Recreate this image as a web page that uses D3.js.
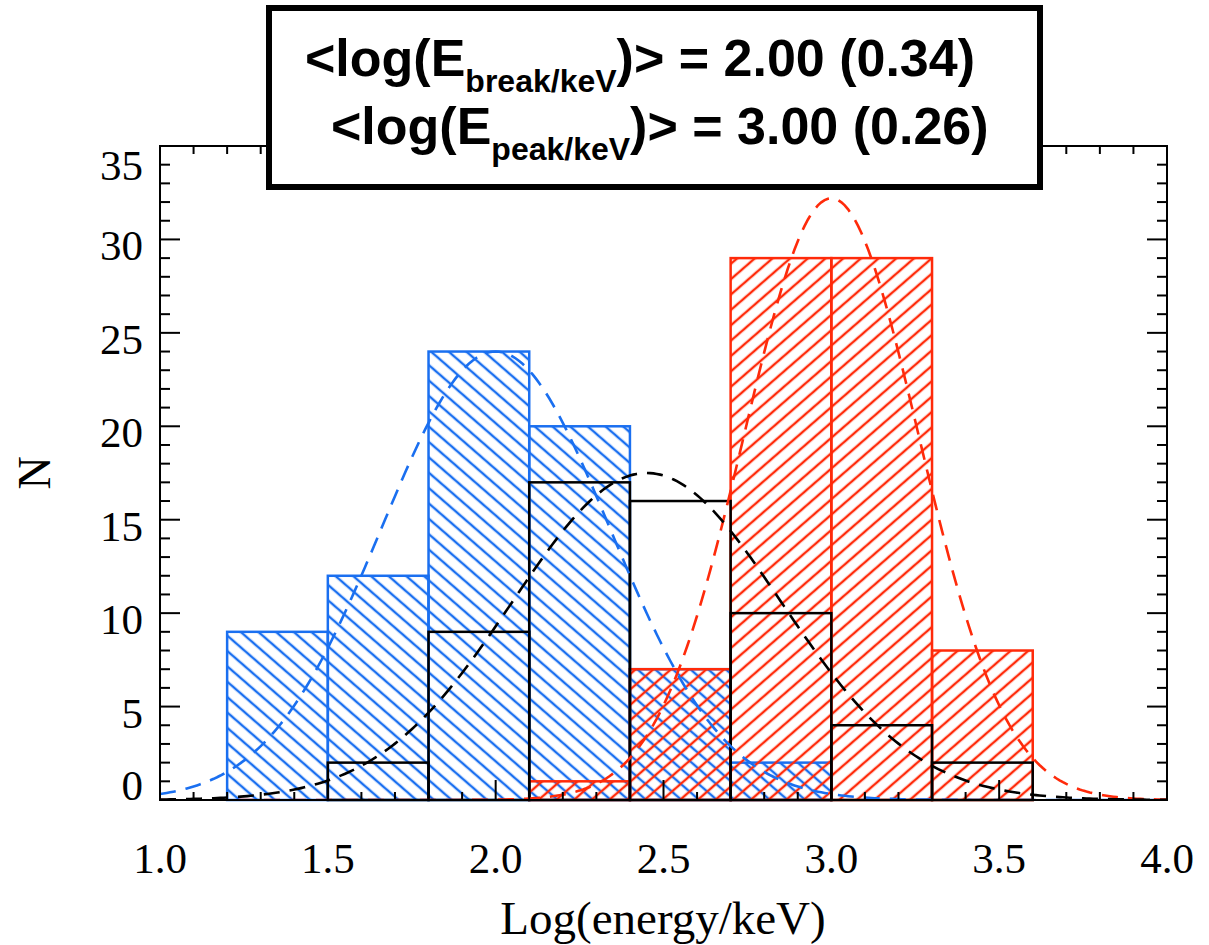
<!DOCTYPE html>
<html><head><meta charset="utf-8">
<script src="https://cdn.jsdelivr.net/npm/d3@7"></script>
<style>body{margin:0;background:#fff}</style>
</head><body><svg id="c" width="1209" height="945"></svg>
<script>
// ---- data ----
const binEdges = [1.2, 1.5, 1.8, 2.1, 2.4, 2.7, 3.0, 3.3, 3.6];
const breakCounts = [9, 12, 24, 20, 7, 2, 0, 0];   // blue
const peakCounts  = [0, 0, 0, 1, 7, 29, 29, 8];    // red
const otherCounts = [0, 2, 9, 17, 16, 10, 4, 2];   // black
// gaussian fits: [mean, sigma, amplitude]
const breakFit = [2.00, 0.34, 24.0];
const peakFit  = [3.00, 0.26, 32.2];
const otherFit = [2.45, 0.40, 17.5];
const xTicks = [1.0, 1.5, 2.0, 2.5, 3.0, 3.5, 4.0];
const xTickLabels = ["1.0", "1.5", "2.0", "2.5", "3.0", "3.5", "4.0"];
const yTicks = [0, 5, 10, 15, 20, 25, 30, 35];
const yTickLabels = ["0", "5", "10", "15", "20", "25", "30", "35"];

const BLUE = "#1a6ff0", RED = "#ff2a0a", BLACK = "#000";
const svg = d3.select("#c");
const L = 160, R = 1167, T = 146, B = 800;
const x = d3.scaleLinear().domain([1.0, 4.0]).range([L, R]);
const y = d3.scaleLinear().domain([0, 35]).range([B, T]);

const defs = svg.append("defs");
function hatch(id, color, angle) {
  const sp = 11.6;
  const p = defs.append("pattern").attr("id", id)
    .attr("patternUnits", "userSpaceOnUse")
    .attr("width", 40).attr("height", sp)
    .attr("patternTransform", `rotate(${angle})`);
  p.append("line").attr("x1", 0).attr("x2", 40)
    .attr("y1", sp / 2).attr("y2", sp / 2)
    .attr("stroke", color).attr("stroke-width", 2.5);
}
hatch("hBlue", BLUE, 41);
hatch("hRed", RED, -41);
defs.append("clipPath").attr("id", "plotClip").append("rect")
  .attr("x", L).attr("y", T).attr("width", R - L).attr("height", B - T);

function bars(counts, color, fill) {
  const data = counts.map((c, i) => ({x0: binEdges[i], x1: binEdges[i + 1], c})).filter(d => d.c > 0);
  svg.append("g").selectAll("rect").data(data).join("rect")
    .attr("x", d => x(d.x0)).attr("width", d => x(d.x1) - x(d.x0))
    .attr("y", d => y(d.c)).attr("height", d => y(0) - y(d.c))
    .attr("fill", fill).attr("stroke", color).attr("stroke-width", 2.5);
}
bars(breakCounts, BLUE, "url(#hBlue)");
bars(peakCounts, RED, "url(#hRed)");
bars(otherCounts, BLACK, "none");

// gaussian curves
const xs = d3.range(0, 301).map(i => 1.0 + i * 0.01);
function curve(fit, color) {
  const [m, s, a] = fit;
  const line = d3.line().x(v => x(v)).y(v => y(a * Math.exp(-0.5 * ((v - m) / s) ** 2)));
  svg.append("path").datum(xs).attr("d", line)
    .attr("fill", "none").attr("stroke", color).attr("stroke-width", 2.6)
    .attr("stroke-dasharray", "16,10").attr("clip-path", "url(#plotClip)");
}
curve(breakFit, BLUE);
curve(peakFit, RED);
curve(otherFit, BLACK);

// axes frame + ticks
const ax = svg.append("g").attr("stroke", BLACK).attr("stroke-width", 2);
ax.append("rect").attr("x", L).attr("y", T).attr("width", R - L).attr("height", B - T).attr("fill", "none");
const xMinor = d3.range(0, 31).map(i => 1.0 + i * 0.1);
xMinor.forEach(v => {
  const major = Math.abs(v * 2 - Math.round(v * 2)) < 1e-6;
  const len = major ? 20 : 8;
  ax.append("line").attr("x1", x(v)).attr("x2", x(v)).attr("y1", B).attr("y2", B - len);
  ax.append("line").attr("x1", x(v)).attr("x2", x(v)).attr("y1", T).attr("y2", T + len);
});
const yMinor = d3.range(0, 36);
yMinor.forEach(v => {
  const len = v % 5 === 0 ? 20 : 10;
  ax.append("line").attr("x1", L).attr("x2", L + len).attr("y1", y(v)).attr("y2", y(v));
  ax.append("line").attr("x1", R).attr("x2", R - len).attr("y1", y(v)).attr("y2", y(v));
});

const serif = "'Liberation Serif', 'Times New Roman', serif";
svg.append("g").selectAll("text").data(xTicks).join("text")
  .attr("x", d => x(d)).attr("y", 873).attr("text-anchor", "middle")
  .attr("font-family", serif).attr("font-size", 43)
  .text((d, i) => xTickLabels[i]);
svg.append("g").selectAll("text").data(yTicks).join("text")
  .attr("x", 143).attr("y", d => Math.min(B, Math.max(T + 34, y(d) + 21)))
  .attr("text-anchor", "end")
  .attr("font-family", serif).attr("font-size", 43)
  .text((d, i) => yTickLabels[i]);
svg.append("text").attr("x", 663).attr("y", 934).attr("text-anchor", "middle")
  .attr("font-family", serif).attr("font-size", 47).text("Log(energy/keV)");
svg.append("text").attr("transform", "translate(50,473) rotate(-90)").attr("text-anchor", "middle")
  .attr("font-family", serif).attr("font-size", 46).text("N");

// legend box
svg.append("rect").attr("x", 269).attr("y", 8).attr("width", 771).attr("height", 179)
  .attr("fill", "#fff").attr("stroke", BLACK).attr("stroke-width", 6);
const sans = "'Liberation Sans', Arial, sans-serif";
function legLine(xp, yp, sub, rest) {
  const t = svg.append("text").attr("x", xp).attr("y", yp)
    .attr("font-family", sans).attr("font-weight", "bold").attr("font-size", 52);
  t.append("tspan").text("<log(E");
  t.append("tspan").attr("font-size", 32).attr("dy", 16).text(sub);
  t.append("tspan").attr("dy", -16).text(rest);
}
legLine(305, 76, "break/keV", ")> = 2.00 (0.34)");
legLine(331, 144, "peak/keV", ")> = 3.00 (0.26)");
</script></body></html>
